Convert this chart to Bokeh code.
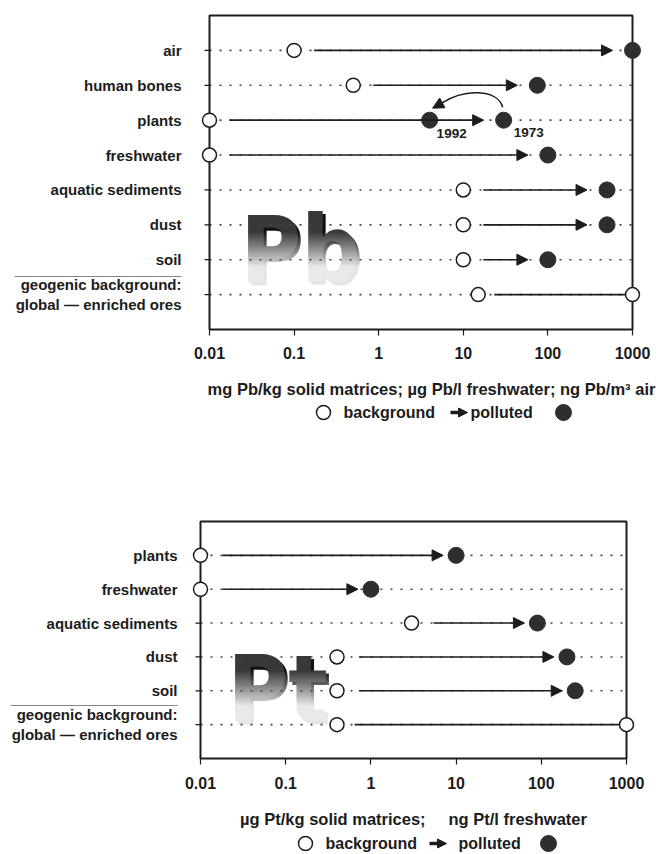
import numpy as np
from bokeh.plotting import figure
from bokeh.layouts import column
from bokeh.models import Range1d, FixedTicker, Arrow, NormalHead, ColumnDataSource
from bokeh.core.properties import value
from bokeh.embed import file_html
from bokeh.resources import INLINE

# ---------------- data ----------------
x_ticks = [0.01, 0.1, 1, 10, 100, 1000]
x_tick_labels = ["0.01", "0.1", "1", "10", "100", "1000"]

geo_label = "geogenic background:\nglobal \u2014 enriched ores"
rule_text = "_" * 20

pb_rows = ["air", "human bones", "plants", "freshwater", "aquatic sediments", "dust", "soil"]
pb_background = [0.1, 0.5, 0.01, 0.01, 10, 10, 10]
pb_polluted = [1000, 75, 30, 100, 500, 500, 100]   # plants: 1973 value
pb_plants_1992 = 4
pb_geogenic = [15, 1000]                           # global, enriched ores
pb_unit = "mg Pb/kg solid matrices; \u00b5g Pb/l freshwater; ng Pb/m\u00b3 air"

pt_rows = ["plants", "freshwater", "aquatic sediments", "dust", "soil"]
pt_background = [0.01, 0.01, 3, 0.4, 0.4]
pt_polluted = [10, 1, 90, 200, 250]
pt_geogenic = [0.4, 1000]
pt_unit = "\u00b5g Pt/kg solid matrices;\u00a0\u00a0\u00a0\u00a0 ng Pt/l freshwater"

legend_words = ["background", "polluted"]

FONT = "Liberation Sans"
BIG_FONT = "DejaVu Sans Condensed, Liberation Sans"
INK = "#1c1c1c"
DOT = "#2e2e2e"
W = 660


def panel(rows, bg, pol, geo, frame, fig_top, fig_bottom, ylab_standoff, xlab_standoff,
          gap_start, gap_end, letters, letters_pos, rule_y, plants_1992=None):
    L, R, T, B = frame          # visual frame in canvas pixels
    EX, EY = 10, 2              # extra room so edge markers are not clipped
    n = len(rows) + 1
    ymax = n + 1
    lo, hi = np.log10(x_ticks[0]), np.log10(x_ticks[-1])
    ppd = (R - L) / (hi - lo)

    def px2x(px):
        return 10 ** (lo + (px - L) / ppd)

    def x2px(x):
        return L + (np.log10(x) - lo) * ppd

    def py2y(py):
        return ymax * (B - py) / (B - T)

    def y2py(y):
        return B - y * (B - T) / ymax

    p = figure(width=W, height=fig_bottom - fig_top, x_axis_type="log",
               x_range=Range1d(px2x(L - EX), px2x(R + EX)),
               y_range=Range1d(py2y(B + EY), py2y(T - EY)),
               output_backend="svg", toolbar_location=None,
               min_border_left=L - EX, min_border_right=W - R - EX,
               min_border_top=T - EY - fig_top, min_border_bottom=fig_bottom - B - EY)
    p.frame_align = False
    p.xgrid.visible = False
    p.ygrid.visible = False
    p.outline_line_color = None
    p.background_fill_color = "white"
    p.border_fill_color = "white"

    # x axis
    xa = p.xaxis[0]
    xa.ticker = FixedTicker(ticks=x_ticks, minor_ticks=[])
    xa.major_label_overrides = {t: s for t, s in zip(x_ticks, x_tick_labels)}
    xa.axis_line_color = None
    xa.major_tick_out = 4
    xa.major_tick_in = 2
    xa.major_tick_line_color = INK
    xa.major_tick_line_width = 1.2
    xa.major_label_standoff = xlab_standoff
    xa.major_label_text_font = FONT
    xa.major_label_text_font_style = "bold"
    xa.major_label_text_font_size = "16px"
    xa.major_label_text_color = INK

    # y axis (row names)
    row_y = [n - i for i in range(len(rows))]
    y_rule = py2y(rule_y)
    ya = p.yaxis[0]
    ya.ticker = FixedTicker(ticks=row_y + [1, y_rule], minor_ticks=[])
    labels = {y: r for y, r in zip(row_y, rows)}
    labels[1] = geo_label
    labels[y_rule] = rule_text
    ya.major_label_overrides = labels
    ya.axis_line_color = None
    ya.major_tick_out = 0
    ya.major_tick_in = 0
    ya.major_tick_line_color = None
    ya.major_label_standoff = ylab_standoff
    ya.major_label_text_font = FONT
    ya.major_label_text_font_style = "bold"
    ya.major_label_text_font_size = "15px"
    ya.major_label_text_color = INK

    # big element letters with shadow and vertical fade
    lx, lc, fs = letters_pos
    p.text(x=[px2x(lx)], y=[py2y(lc)], text=[letters], x_offset=3, y_offset=3,
           text_font=value(BIG_FONT), text_font_style="bold",
           text_font_size=f"{fs}px", text_color="#111111", text_baseline="middle")
    p.text(x=[px2x(lx)], y=[py2y(lc)], text=[letters],
           text_font=value(BIG_FONT), text_font_style="bold",
           text_font_size=f"{fs}px", text_color="#383838", text_baseline="middle")
    top_px = lc - 0.40 * fs
    bot_px = lc + 0.40 * fs + 4
    nstrip = 40
    edges = np.linspace(top_px, bot_px, nstrip + 1)[:-1]
    tt = (edges - top_px) / (bot_px - top_px)
    target = np.clip((tt - 0.22) / 0.45, 0, 1) * 0.9
    prev = np.concatenate([[0.0], target[:-1]])
    step = 1 - (1 - target) / (1 - prev)
    keep = step > 1e-4
    p.quad(left=[px2x(lx - 4)] * int(keep.sum()), right=[px2x(lx + 1.4 * fs)] * int(keep.sum()),
           top=[py2y(e) for e in edges[keep]], bottom=[py2y(bot_px)] * int(keep.sum()),
           fill_color="white", fill_alpha=list(step[keep]), line_color=None)

    # dotted row guides
    ally = row_y + [1]
    p.segment(x0=[x_ticks[0]] * len(ally), x1=[x_ticks[-1]] * len(ally), y0=ally, y1=ally,
              line_color="#444444", line_width=1.6, line_dash="2 8")
    # row ticks on the left edge of the box
    p.segment(x0=[px2x(L - 5)] * len(ally), x1=[x_ticks[0]] * len(ally), y0=ally, y1=ally,
              line_color=INK, line_width=1.2)
    # box
    p.quad(left=[x_ticks[0]], right=[x_ticks[-1]], bottom=[0], top=[ymax],
           fill_color=None, line_color=INK, line_width=2)

    gs = 10 ** (gap_start / ppd)
    ge = 10 ** (gap_end / ppd)
    src = ColumnDataSource(dict(x0=[b * gs for b in bg], x1=[v / ge for v in pol],
                                y0=row_y, y1=row_y))
    p.add_layout(Arrow(end=NormalHead(size=11, fill_color=INK, line_color=INK, line_width=1),
                       source=src, x_start="x0", y_start="y0", x_end="x1", y_end="y1",
                       line_color=INK, line_width=1.6))
    # geogenic range line
    p.segment(x0=[geo[0] * 10 ** (gap_start * 0.8 / ppd)], x1=[geo[1] / 10 ** (7 / ppd)],
              y0=[1], y1=[1], line_color=INK, line_width=1.6)

    if plants_1992 is not None:
        yp = row_y[rows.index("plants")]
        x73 = pol[rows.index("plants")]
        sx73, sx92, sy = x2px(x73), x2px(plants_1992), y2py(yp)
        p.bezier(x0=[px2x(sx73 - 1)], y0=[py2y(sy - 13)],
                 x1=[px2x(sx92 + 12)], y1=[py2y(sy - 17)],
                 cx0=[px2x(sx73 - 6)], cy0=[py2y(sy - 31)],
                 cx1=[px2x(sx92 + 35)], cy1=[py2y(sy - 32)],
                 line_color=INK, line_width=1.6)
        p.add_layout(Arrow(end=NormalHead(size=11, fill_color=INK, line_color=INK, line_width=1),
                           x_start=px2x(sx92 + 14), y_start=py2y(sy - 18),
                           x_end=px2x(sx92 + 3), y_end=py2y(sy - 12),
                           line_color=INK, line_width=1.6))
        p.scatter(x=[plants_1992], y=[yp], size=16, fill_color=DOT, line_color=DOT)
        p.text(x=[plants_1992, x73], y=[yp, yp], text=["1992", "1973"],
               x_offset=[22, 25], y_offset=[13, 12],
               text_font=value(FONT), text_font_style="bold", text_font_size="13.5px",
               text_color=INK, text_align="center", text_baseline="middle")

    # points
    p.scatter(x=bg + [geo[0], geo[1]], y=row_y + [1, 1], size=14, fill_color="white",
              line_color=INK, line_width=1.5)
    p.scatter(x=pol, y=row_y, size=16, fill_color=DOT, line_color=DOT)
    return p


def caption(unit, unit_x, unit_y, legend_pos, top, bottom):
    # positions are canvas pixels of the whole page (y grows downward)
    c = figure(width=W, height=bottom - top, x_range=Range1d(0, W), y_range=Range1d(bottom, top),
               output_backend="svg", toolbar_location=None,
               x_axis_location=None, y_axis_location=None, min_border=0)
    c.frame_align = False
    c.outline_line_color = None
    c.xgrid.visible = False
    c.ygrid.visible = False
    c.background_fill_color = "white"
    c.border_fill_color = "white"
    ox, bx, ax0, ax1, plx, fx, ly = legend_pos
    c.text(x=[unit_x], y=[unit_y], text=[unit], text_align="center", text_baseline="middle",
           text_font=value(FONT), text_font_style="bold", text_font_size="16.5px",
           text_color=INK)
    c.text(x=[bx, plx], y=[ly, ly], text=legend_words, text_align="left",
           text_baseline="middle", text_font=value(FONT), text_font_style="bold",
           text_font_size="16px", text_color=INK)
    c.add_layout(Arrow(end=NormalHead(size=9, fill_color=INK, line_color=INK, line_width=1),
                       x_start=ax0, y_start=ly, x_end=ax1, y_end=ly,
                       line_color=INK, line_width=3.5))
    c.scatter(x=[ox], y=[ly], size=14, fill_color="white", line_color=INK, line_width=1.5)
    c.scatter(x=[fx], y=[ly], size=16, fill_color=DOT, line_color=DOT)
    return c


top = panel(pb_rows, pb_background, pb_polluted, pb_geogenic,
            frame=(209, 632, 15, 329), fig_top=0, fig_bottom=372,
            ylab_standoff=18, xlab_standoff=11, gap_start=20, gap_end=20,
            letters="Pb", letters_pos=(240, 250, 92), rule_y=269,
            plants_1992=pb_plants_1992)
cap_top = caption(pb_unit, 431, 388, (323, 343, 450, 467, 470, 563, 412), 372, 430)

bottom = panel(pt_rows, pt_background, pt_polluted, pt_geogenic,
               frame=(200, 626, 521, 758), fig_top=430, fig_bottom=800,
               ylab_standoff=13, xlab_standoff=12, gap_start=22, gap_end=13,
               letters="Pt", letters_pos=(227, 689, 92), rule_y=698)
cap_bottom = caption(pt_unit, 413, 818, (305, 325, 429, 446, 458, 548, 843), 800, 853)

layout = column(top, cap_top, bottom, cap_bottom)
open("out.html", "w").write(file_html(layout, INLINE))
